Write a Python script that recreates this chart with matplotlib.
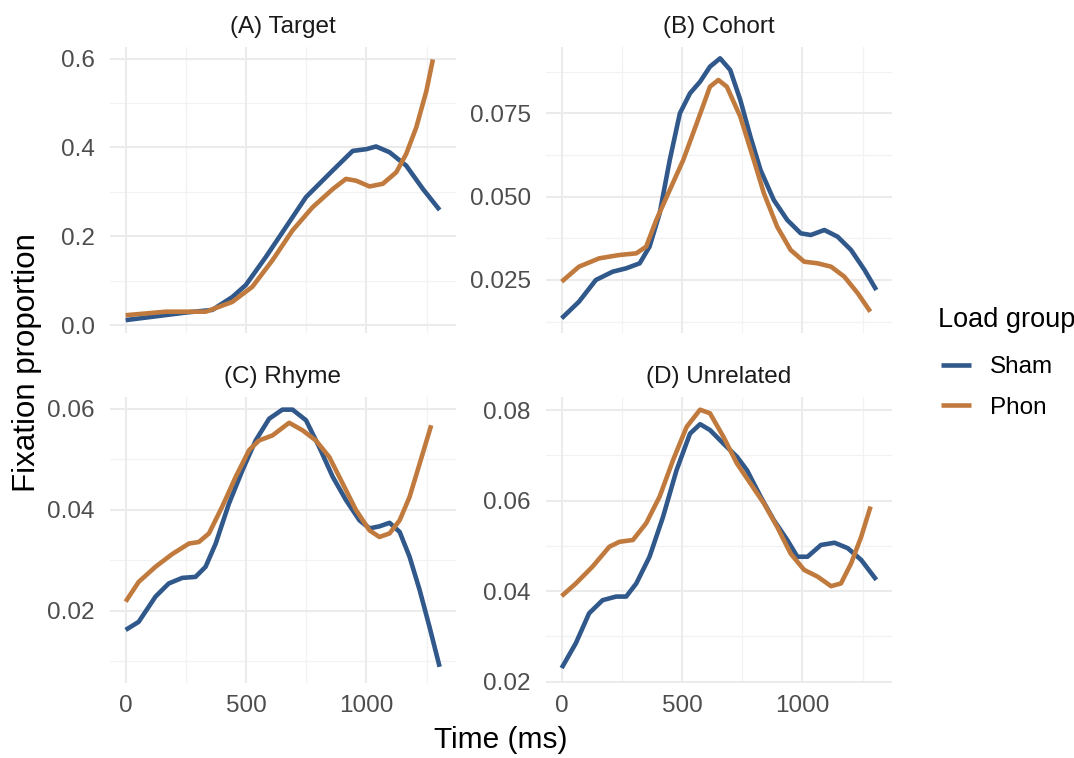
import matplotlib
matplotlib.use("Agg")
import matplotlib.pyplot as plt

plt.rcParams['font.family'] = ['Liberation Sans', 'DejaVu Sans']

# fixation proportions over time, per panel and load group
a_sham_t = [0, 249, 360, 443, 499, 582, 665, 749, 860, 943, 1000, 1040, 1096, 1165, 1235, 1304]
a_sham_v = [0.011, 0.028, 0.034, 0.063, 0.090, 0.153, 0.220, 0.288, 0.348, 0.392, 0.396, 0.402, 0.389, 0.359, 0.306, 0.259]
a_phon_t = [0, 167, 333, 443, 526, 610, 693, 776, 860, 915, 957, 1013, 1068, 1124, 1165, 1207, 1249, 1276]
a_phon_v = [0.022, 0.030, 0.030, 0.052, 0.086, 0.146, 0.213, 0.265, 0.306, 0.329, 0.325, 0.312, 0.318, 0.344, 0.385, 0.445, 0.527, 0.598]

b_sham_t = [0, 72, 142, 212, 268, 324, 365, 407, 449, 491, 533, 575, 616, 658, 700, 742, 784, 826, 881, 937, 993, 1035, 1091, 1146, 1202, 1258, 1307]
b_sham_v = [0.0135, 0.0185, 0.025, 0.0275, 0.0285, 0.030, 0.035, 0.045, 0.061, 0.075, 0.081, 0.0845, 0.089, 0.0915, 0.088, 0.079, 0.068, 0.058, 0.049, 0.043, 0.039, 0.0385, 0.040, 0.038, 0.034, 0.028, 0.022]
b_phon_t = [0, 72, 156, 240, 310, 351, 393, 449, 505, 561, 616, 651, 686, 742, 798, 840, 895, 951, 1007, 1063, 1119, 1174, 1230, 1282]
b_phon_v = [0.0245, 0.029, 0.0315, 0.0325, 0.033, 0.035, 0.043, 0.052, 0.061, 0.072, 0.083, 0.085, 0.083, 0.074, 0.061, 0.051, 0.041, 0.034, 0.0305, 0.030, 0.029, 0.026, 0.021, 0.0155]

c_sham_t = [0, 54, 124, 179, 235, 290, 332, 374, 429, 485, 540, 596, 651, 693, 749, 804, 860, 915, 971, 1013, 1054, 1096, 1138, 1179, 1221, 1262, 1304]
c_sham_v = [0.0162, 0.0178, 0.0228, 0.0254, 0.0265, 0.0267, 0.0287, 0.0333, 0.0412, 0.0478, 0.0537, 0.058, 0.0598, 0.0598, 0.0577, 0.0524, 0.0465, 0.0419, 0.0379, 0.0363, 0.0367, 0.0374, 0.0356, 0.0307, 0.0241, 0.0168, 0.0089]
c_phon_t = [0, 54, 124, 193, 263, 304, 346, 401, 457, 513, 554, 610, 679, 735, 790, 846, 901, 957, 1013, 1054, 1096, 1138, 1179, 1221, 1269]
c_phon_v = [0.0218, 0.0257, 0.0287, 0.0312, 0.0333, 0.0336, 0.0353, 0.0406, 0.0465, 0.0518, 0.0537, 0.0547, 0.0572, 0.0557, 0.0537, 0.0504, 0.0452, 0.0399, 0.0359, 0.0346, 0.0353, 0.0379, 0.0425, 0.0491, 0.0567]

d_sham_t = [0, 59, 114, 170, 226, 268, 310, 365, 421, 477, 533, 575, 616, 672, 728, 770, 826, 881, 937, 979, 1021, 1077, 1133, 1188, 1244, 1307]
d_sham_v = [0.023, 0.0285, 0.0351, 0.038, 0.0388, 0.0388, 0.0417, 0.0476, 0.0564, 0.0667, 0.0748, 0.0769, 0.0756, 0.0726, 0.0697, 0.0667, 0.0609, 0.0557, 0.0513, 0.0476, 0.0476, 0.0502, 0.0507, 0.0495, 0.0469, 0.0425]
d_phon_t = [0, 59, 128, 198, 240, 296, 351, 407, 463, 519, 575, 616, 672, 728, 784, 840, 895, 951, 1007, 1063, 1119, 1160, 1202, 1244, 1283]
d_phon_v = [0.0389, 0.0417, 0.0454, 0.0498, 0.0509, 0.0513, 0.055, 0.0609, 0.069, 0.0763, 0.0801, 0.0793, 0.0741, 0.0682, 0.0638, 0.0594, 0.0542, 0.0483, 0.0447, 0.0432, 0.0411, 0.0417, 0.0461, 0.052, 0.0587]

titles = ["(A) Target", "(B) Cohort", "(C) Rhyme", "(D) Unrelated"]
groups = ["Sham", "Phon"]
colors = {"Sham": "#30588B", "Phon": "#C17A3D"}

x_major = [0, 500, 1000]
x_minor = [250, 750, 1250]

panels = [
    dict(sham=(a_sham_t, a_sham_v), phon=(a_phon_t, a_phon_v), ylim=(-0.018, 0.626),
         major=[0.0, 0.2, 0.4, 0.6], minor=[0.1, 0.3, 0.5], fmt="{:.1f}",
         box=[110, 47, 456, 333]),
    dict(sham=(b_sham_t, b_sham_v), phon=(b_phon_t, b_phon_v), ylim=(0.0091, 0.0949),
         major=[0.025, 0.05, 0.075], minor=[0.0125, 0.0375, 0.0625, 0.0875], fmt="{:.3f}",
         box=[546, 47, 892, 333]),
    dict(sham=(c_sham_t, c_sham_v), phon=(c_phon_t, c_phon_v), ylim=(0.0057, 0.0623),
         major=[0.02, 0.04, 0.06], minor=[0.01, 0.03, 0.05], fmt="{:.2f}",
         box=[110, 397, 456, 683]),
    dict(sham=(d_sham_t, d_sham_v), phon=(d_phon_t, d_phon_v), ylim=(0.0197, 0.0829),
         major=[0.02, 0.04, 0.06, 0.08], minor=[0.03, 0.05, 0.07], fmt="{:.2f}",
         box=[546, 397, 892, 683]),
]

W, H = 1074, 758
fig = plt.figure(figsize=(W / 100, H / 100), dpi=100)

for i, p in enumerate(panels):
    l, t, r, b = p["box"]
    ax = fig.add_axes([l / W, (H - b) / H, (r - l) / W, (b - t) / H])
    for v in p["minor"]:
        ax.axhline(v, color="#F2F2F2", lw=0.9, zorder=0)
    for v in x_minor:
        ax.axvline(v, color="#F2F2F2", lw=0.9, zorder=0)
    for v in p["major"]:
        ax.axhline(v, color="#EBEBEB", lw=1.5, zorder=0)
    for v in x_major:
        ax.axvline(v, color="#EBEBEB", lw=1.5, zorder=0)
    ax.plot(*p["sham"], color=colors["Sham"], lw=3.3, label="Sham",
            solid_joinstyle="round", solid_capstyle="butt")
    ax.plot(*p["phon"], color=colors["Phon"], lw=3.3, label="Phon",
            solid_joinstyle="round", solid_capstyle="butt")
    ax.set_xlim(-65, 1372)
    ax.set_ylim(*p["ylim"])
    ax.set_yticks(p["major"])
    ax.set_yticklabels([p["fmt"].format(v) for v in p["major"]])
    ax.set_xticks(x_major)
    if i >= 2:
        ax.set_xticklabels([str(v) for v in x_major])
    else:
        ax.set_xticklabels([])
    ax.tick_params(length=0, labelsize=17.5, labelcolor="#4D4D4D")
    ax.tick_params(axis="y", pad=11)
    ax.tick_params(axis="x", pad=9)
    for s in ax.spines.values():
        s.set_visible(False)
    ax.set_title(titles[i], fontsize=17.5, color="#1A1A1A", pad=10)
    if i == 0:
        handles = ax.get_lines()[-2:]

fig.text(27 / W, 1 - 363 / H, "Fixation proportion", rotation=90, fontsize=22.5,
         ha="center", va="center")
fig.text(501 / W, 1 - 740 / H, "Time (ms)", fontsize=21.5, ha="center", va="center")

# legend title placed on its own, entries below it
fig.text(938 / W, 1 - 320 / H, "Load group", fontsize=19.5, ha="left", va="center")
fig.legend(handles, groups, loc="upper left",
           bbox_to_anchor=(941 / W, 1 - 356 / H), frameon=False,
           borderpad=0, borderaxespad=0,
           fontsize=17.5, handlelength=1.25,
           handletextpad=0.75, labelspacing=0.78)

fig.savefig("out.png", dpi=100)
